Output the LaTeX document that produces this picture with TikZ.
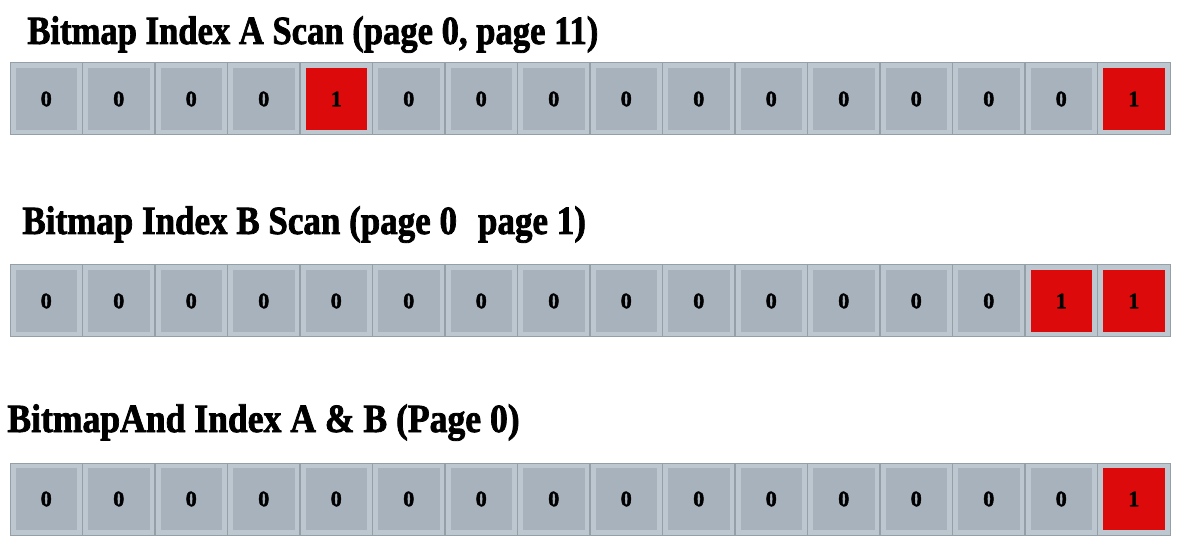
\documentclass[tikz,border=0pt]{standalone}
\usepackage{fontspec}
\setmainfont{Liberation Serif}[BoldFeatures={FakeBold=2}]
\definecolor{framegray}{HTML}{BCC7D0}
\definecolor{cellgray}{HTML}{A7B2BC}
\definecolor{linegray}{HTML}{959FA8}
\definecolor{bitred}{HTML}{DC0A0A}
\tikzset{
  frame/.style={fill=framegray,draw=linegray,line width=0.5pt},
  divider/.style={draw=linegray,line width=0.6pt},
  bitcell/.style={minimum width=30.75pt,minimum height=31pt,inner sep=0pt,
    font=\fontsize{11}{11}\selectfont\bfseries},
  bitcell0/.style={bitcell,fill=cellgray},
  bitcell1/.style={bitcell,fill=bitred},
  title/.style={anchor=base west,inner sep=0pt,
    font=\fontsize{20}{22}\selectfont\bfseries}
}
\begin{document}
\begin{tikzpicture}[x=0.5pt,y=-0.5pt]
\useasboundingbox (0,0) rectangle (1182,555);
% titles
\node[title] (titlea) at (27,44) {\scalebox{0.865}[1]{Bitmap Index A Scan (page 0, page 11)}};
\node[title] (titleb) at (22,234) {\scalebox{0.875}[1]{Bitmap Index B Scan (page 0\hspace{0.6em}page 1)}};
\node[title] (titlec) at (7,432) {\scalebox{0.89}[1]{BitmapAnd Index A \& B (Page 0)}};
% bit rows
\foreach \row/\ytop/\bits in {a/63/{0,0,0,0,1,0,0,0,0,0,0,0,0,0,0,1},
                              b/265/{0,0,0,0,0,0,0,0,0,0,0,0,0,0,1,1},
                              c/463/{0,0,0,0,0,0,0,0,0,0,0,0,0,0,0,1}}{
  \draw[frame] (10,\ytop) rectangle ++(1160,72);
  \foreach \b [count=\i] in \bits
    \node[bitcell\b] (\row\i) at ({10+72.5*(\i-0.5)},\ytop+36) {\b};
  \foreach \i in {1,...,15}
    \draw[divider] ({10+72.5*\i},\ytop) -- ++(0,72);
}
\end{tikzpicture}
\end{document}
